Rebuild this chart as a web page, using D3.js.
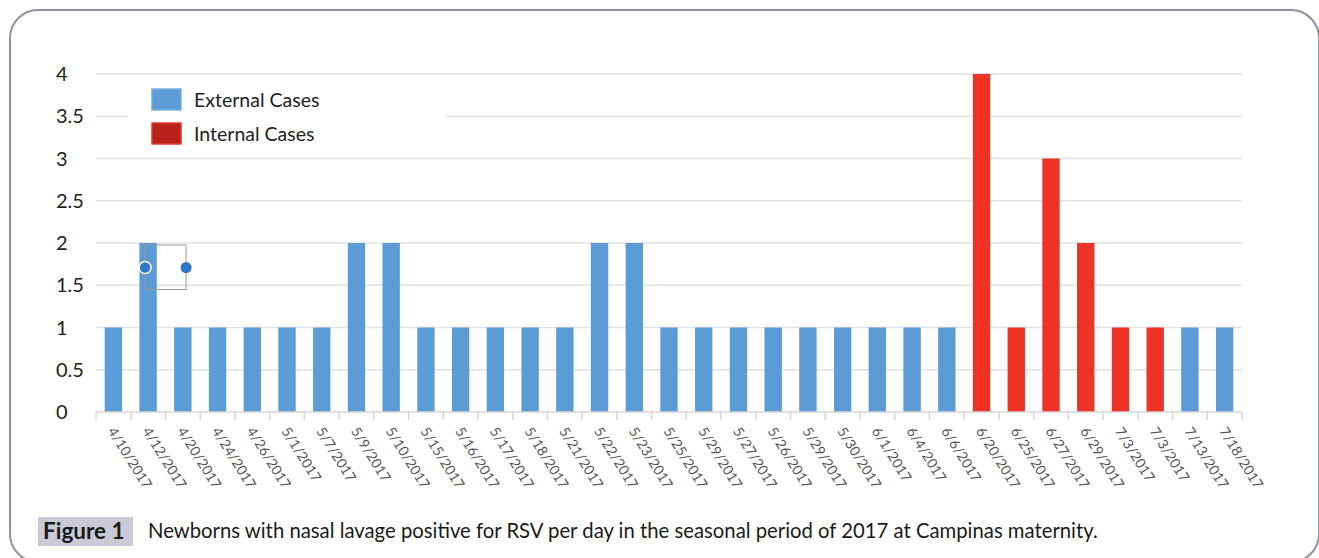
<!DOCTYPE html>
<html>
<head>
<meta charset="utf-8">
<script src="https://cdn.jsdelivr.net/npm/d3@7"></script>
<style>
  html, body { margin: 0; padding: 0; background: #fff; }
  svg { display: block; }
</style>
</head>
<body>
<svg id="chart" width="1319" height="558"></svg>
<script>
const categories = ["4/10/2017","4/12/2017","4/20/2017","4/24/2017","4/26/2017","5/1/2017","5/7/2017","5/9/2017","5/10/2017","5/15/2017","5/16/2017","5/17/2017","5/18/2017","5/21/2017","5/22/2017","5/23/2017","5/25/2017","5/29/2017","5/27/2017","5/26/2017","5/29/2017","5/30/2017","6/1/2017","6/4/2017","6/6/2017","6/20/2017","6/25/2017","6/27/2017","6/29/2017","7/3/2017","7/3/2017","7/13/2017","7/18/2017"];
const values = [1,2,1,1,1,1,1,2,2,1,1,1,1,1,2,2,1,1,1,1,1,1,1,1,1,4,1,3,2,1,1,1,1];
const caseType = ["External","External","External","External","External","External","External","External","External","External","External","External","External","External","External","External","External","External","External","External","External","External","External","External","External","Internal","Internal","Internal","Internal","Internal","Internal","External","External"];
const seriesNames = ["External Cases","Internal Cases"];
const yTicks = [0,0.5,1,1.5,2,2.5,3,3.5,4];
const captionLabel = "Figure 1";
const captionText = "Newborns with nasal lavage positive for RSV per day in the seasonal period of 2017 at Campinas maternity.";

const colors = { External: "#5b9bd6", Internal: "#ee3326" };
const font = "Lato, 'Open Sans', sans-serif";

const svg = d3.select("#chart");

// border
svg.append("rect").attr("x", 10).attr("y", 10).attr("width", 1309).attr("height", 552)
  .attr("rx", 28).attr("fill", "none").attr("stroke", "#8d93a3").attr("stroke-width", 2);

const plotLeft = 96, plotRight = 1242, plotTop = 74, plotBottom = 412;
const x = d3.scaleBand().domain(d3.range(categories.length)).range([plotLeft, plotRight]).paddingInner(0.5).paddingOuter(0.25);
const y = d3.scaleLinear().domain([0, 4]).range([plotBottom, plotTop]);

// gridlines
svg.append("g").selectAll("line").data(yTicks.filter(d => d > 0)).join("line")
  .attr("x1", plotLeft).attr("x2", plotRight)
  .attr("y1", d => y(d)).attr("y2", d => y(d))
  .attr("stroke", "#e2e2e2").attr("stroke-width", 1.5);

// y labels
svg.append("g").selectAll("text").data(yTicks).join("text")
  .attr("x", 56).attr("y", d => y(d)).attr("dy", "0.36em")
  .attr("font-family", font).attr("font-size", 20).attr("fill", "#222")
  .text(d => d);

// bars
svg.append("g").selectAll("rect").data(values).join("rect")
  .attr("x", (d, i) => x(i)).attr("width", x.bandwidth())
  .attr("y", d => y(d)).attr("height", d => y(0) - y(d))
  .attr("fill", (d, i) => colors[caseType[i]]);

// x axis line and ticks
const ax = svg.append("g");
ax.append("line").attr("x1", plotLeft).attr("x2", plotRight).attr("y1", plotBottom).attr("y2", plotBottom)
  .attr("stroke", "#d6d6d6").attr("stroke-width", 1.5);
const step = x.step();
const tickXs = d3.range(categories.length + 1).map(i => x(0) - x.paddingInner() * step / 2 + i * step);
ax.selectAll("line.tick").data(tickXs).join("line").attr("class", "tick")
  .attr("x1", d => d).attr("x2", d => d).attr("y1", plotBottom).attr("y2", plotBottom + 8)
  .attr("stroke", "#d6d6d6").attr("stroke-width", 1.5);

// x labels
svg.append("g").selectAll("text").data(categories).join("text")
  .attr("transform", (d, i) => `translate(${x(i) + x.bandwidth() / 2 - 6},${plotBottom + 19}) rotate(58)`)
  .attr("font-family", font).attr("font-size", 14).attr("fill", "#555")
  .attr("text-anchor", "start")
  .text(d => d);

// legend (white box covers gridline)
const lg = svg.append("g");
lg.append("rect").attr("x", 128).attr("y", 80).attr("width", 318).attr("height", 72).attr("fill", "#fff");
seriesNames.forEach((name, i) => {
  lg.append("rect").attr("x", 152).attr("y", 89 + i * 34).attr("width", 29).attr("height", 21)
    .attr("fill", i === 0 ? colors.External : "#b8221b")
    .attr("stroke", i === 0 ? "#7aaee0" : "#e23b2e").attr("stroke-width", 1.5);
  lg.append("text").attr("x", 194).attr("y", 99.5 + i * 34).attr("dy", "0.36em")
    .attr("font-family", font).attr("font-size", 19.5).attr("fill", "#222").text(name);
});

// selection artifact on 4/12 bar
const sx = x(1) + x.bandwidth() / 2;
const art = svg.append("g");
art.append("rect").attr("x", sx - 3).attr("y", y(2) + 2).attr("width", 41).attr("height", y(1.45) - y(2) - 2)
  .attr("fill", "none").attr("stroke", "#999").attr("stroke-width", 1);
art.append("circle").attr("cx", sx - 3).attr("cy", y(1.71)).attr("r", 6)
  .attr("fill", "#2f74c8").attr("stroke", "#fff").attr("stroke-width", 1.5);
art.append("circle").attr("cx", sx + 38).attr("cy", y(1.71)).attr("r", 5.5).attr("fill", "#2f74c8");

// caption
svg.append("rect").attr("x", 38).attr("y", 517).attr("width", 95).attr("height", 29).attr("fill", "#c9cad6");
svg.append("text").attr("x", 43).attr("y", 539).attr("font-family", font).attr("font-weight", "bold")
  .attr("font-size", 22.5).attr("fill", "#1a1a1a").text(captionLabel);
svg.append("text").attr("x", 148).attr("y", 538).attr("font-family", font)
  .attr("font-size", 20.3).attr("fill", "#1a1a1a").text(captionText);
</script>
</body>
</html>
